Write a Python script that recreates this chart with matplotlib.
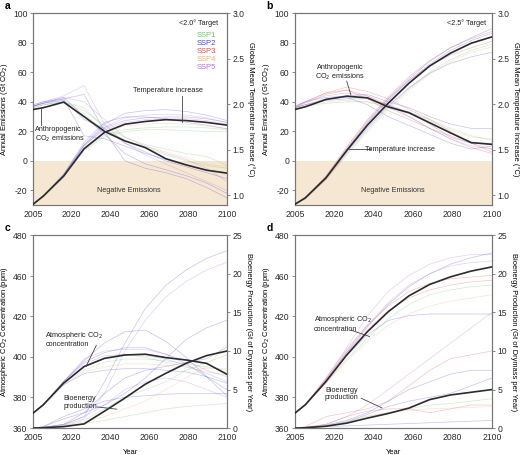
import numpy as np
import matplotlib
matplotlib.use('Agg')
from matplotlib import pyplot as plt

plt.rcParams['font.family'] = ['Liberation Sans', 'DejaVu Sans']
plt.rcParams['axes.unicode_minus'] = False

# ---- data ----
years = [2005, 2010, 2020, 2030, 2040, 2050, 2060, 2070, 2080, 2090, 2100]
year_labels = ['2005', '2020', '2040', '2060', '2080', '2100']

ssp_names = ['SSP1', 'SSP2', 'SSP3', 'SSP4', 'SSP5']
ssp_colors = {'SSP1': '#6cc46c', 'SSP2': '#4646d8', 'SSP3': '#e0504a',
              'SSP4': '#f2ad74', 'SSP5': '#b46ee0'}

# panel a: <2.0 degree target
a_em_mean = [34.8, 36, 39.8, 30, 20, 13.5, 9, 1.5, -2.7, -6.3, -8.3]
a_temp_mean = [0.90, 0.99, 1.21, 1.51, 1.69, 1.78, 1.81, 1.83, 1.82, 1.80, 1.77]
a_em_runs = [
    ('SSP2', [37, 39, 43, 30, 18, 5, -2, -6, -10, -15, -22]),
    ('SSP5', [38, 40, 44, 51, 25, 12, 4, -2, -8, -14, -20]),
    ('SSP2', [37, 39, 42, 45, 20, 0, -5, -8, -12, -18, -25]),
    ('SSP1', [36, 38, 40, 36, 22, 14, 9, 4, 0, -3, -5]),
    ('SSP4', [36, 38, 41, 32, 20, 14, 10, 6, 2, -2, -4]),
    ('SSP2', [37, 40, 42, 17, 15, 10, 5, 1, -3, -6, -8]),
    ('SSP5', [38, 40, 43, 40, 28, 16, 10, 5, 1, -5, -14]),
    ('SSP1', [36, 38, 40, 34, 24, 16, 11, 8, 5, 3, -3]),
    ('SSP2', [37, 39, 41, 28, 22, 12, 6, 0, -4, -8, -12]),
]
a_temp_runs = [
    ('SSP2', [0.90, 0.99, 1.22, 1.55, 1.78, 1.90, 1.93, 1.94, 1.92, 1.88, 1.82]),
    ('SSP5', [0.90, 0.99, 1.23, 1.56, 1.75, 1.85, 1.88, 1.89, 1.88, 1.85, 1.80]),
    ('SSP1', [0.90, 0.98, 1.20, 1.50, 1.66, 1.72, 1.74, 1.75, 1.75, 1.74, 1.72]),
    ('SSP4', [0.90, 0.98, 1.21, 1.52, 1.70, 1.76, 1.78, 1.79, 1.78, 1.76, 1.73]),
    ('SSP2', [0.90, 0.99, 1.22, 1.54, 1.74, 1.82, 1.85, 1.86, 1.86, 1.84, 1.80]),
    ('SSP2', [0.90, 0.99, 1.23, 1.58, 1.80, 1.86, 1.86, 1.84, 1.80, 1.77, 1.73]),
    ('SSP1', [0.90, 0.98, 1.20, 1.49, 1.64, 1.70, 1.72, 1.72, 1.71, 1.70, 1.70]),
    ('SSP5', [0.90, 0.99, 1.22, 1.55, 1.72, 1.80, 1.83, 1.84, 1.84, 1.82, 1.78]),
]

# panel b: <2.5 degree target
b_em_mean = [34.8, 36.6, 41.6, 43.8, 42.7, 36.6, 32.6, 25.8, 19, 12.4, 11.2]
b_temp_mean = [0.90, 0.97, 1.19, 1.49, 1.77, 2.01, 2.23, 2.42, 2.56, 2.67, 2.74]
b_em_runs = [
    ('SSP3', [36, 40, 46, 50, 47, 42, 35, 28, 20, 12, 6]),
    ('SSP3', [36, 39, 45, 48, 44, 38, 30, 22, 15, 9, 5]),
    ('SSP2', [37, 40, 43, 44, 45, 40, 36, 30, 25, 22, 22]),
    ('SSP1', [35, 37, 39, 40, 40, 36, 33, 28, 22, 17, 14]),
    ('SSP2', [36, 38, 41, 42, 42, 38, 33, 25, 16, 12, 12]),
    ('SSP5', [37, 40, 44, 46, 44, 36, 30, 22, 15, 10, 8]),
    ('SSP4', [35, 37, 40, 41, 40, 37, 33, 27, 21, 16, 15]),
    ('SSP2', [36, 38, 42, 43, 38, 30, 24, 18, 12, 8, 10]),
    ('SSP3', [36, 40, 46, 48, 42, 34, 28, 22, 17, 12, 8]),
]
b_temp_runs = [
    ('SSP3', [0.90, 0.97, 1.21, 1.53, 1.83, 2.08, 2.30, 2.48, 2.62, 2.72, 2.80]),
    ('SSP2', [0.90, 0.97, 1.20, 1.50, 1.80, 2.06, 2.28, 2.47, 2.62, 2.73, 2.83]),
    ('SSP1', [0.90, 0.96, 1.17, 1.45, 1.72, 1.96, 2.17, 2.35, 2.49, 2.59, 2.66]),
    ('SSP5', [0.90, 0.97, 1.19, 1.48, 1.77, 2.02, 2.24, 2.42, 2.57, 2.67, 2.74]),
    ('SSP2', [0.90, 0.96, 1.18, 1.47, 1.74, 1.98, 2.18, 2.34, 2.45, 2.52, 2.57]),
    ('SSP4', [0.90, 0.96, 1.17, 1.44, 1.70, 1.94, 2.15, 2.33, 2.47, 2.57, 2.63]),
    ('SSP3', [0.90, 0.97, 1.20, 1.52, 1.82, 2.06, 2.26, 2.42, 2.54, 2.62, 2.69]),
    ('SSP2', [0.90, 0.97, 1.20, 1.50, 1.79, 2.04, 2.26, 2.44, 2.59, 2.70, 2.78]),
]

# panel c: CO2 concentration and bioenergy, <2.0 degree
c_co2_mean = [369.3, 374.5, 388, 398.3, 403.4, 405.5, 406, 403.9, 402.4, 400.3, 393.5]
c_bio_mean = [0, 0.05, 0.2, 0.55, 2.2, 3.9, 5.7, 7.1, 8.4, 9.4, 10.0]
c_co2_runs = [
    ('SSP2', [369.3, 374.5, 389, 402, 413, 420, 421, 414, 404, 392, 380]),
    ('SSP5', [369.3, 374.5, 389, 403, 408, 409, 409, 406, 402, 396, 392]),
    ('SSP1', [369.3, 374.5, 388, 398, 404, 406, 404, 401, 398, 395, 393]),
    ('SSP4', [369.3, 374.5, 387, 395, 398, 400, 400, 399, 398, 397, 397]),
    ('SSP2', [369.3, 374.5, 387, 394, 396, 397, 397, 396, 395, 392, 388]),
    ('SSP2', [369.3, 374.5, 389, 401, 407, 410, 410, 406, 400, 392, 384]),
    ('SSP1', [369.3, 374.5, 388, 396, 401, 403, 403, 402, 400, 398, 396]),
    ('SSP5', [369.3, 374.5, 389, 400, 405, 406, 405, 403, 399, 394, 389]),
]
c_bio_runs = [
    ('SSP2', [0, 0.1, 0.5, 1.5, 6.0, 11.0, 15.5, 18.5, 20.5, 22.0, 23.0]),
    ('SSP5', [0, 0.1, 0.4, 1.2, 4.5, 10.0, 14.0, 17.0, 19.0, 20.5, 21.5]),
    ('SSP2', [0, 0.2, 1.2, 2.0, 3.0, 4.5, 6.5, 9.0, 11.5, 13.0, 14.0]),
    ('SSP1', [0, 0.1, 0.3, 1.0, 2.5, 4.0, 5.0, 6.0, 7.5, 8.5, 9.5]),
    ('SSP4', [0, 0.1, 0.3, 0.8, 1.5, 2.5, 3.5, 5.0, 6.5, 8.0, 11.0]),
    ('SSP2', [0, 0.1, 0.5, 2.0, 4.5, 6.5, 7.5, 8.0, 8.5, 9.0, 10.5]),
    ('SSP1', [0, 0.1, 0.2, 0.6, 1.0, 1.5, 2.0, 2.5, 2.8, 3.0, 3.2]),
    ('SSP5', [0, 0.1, 0.4, 1.5, 3.0, 5.0, 6.0, 6.5, 6.0, 5.0, 4.0]),
    ('SSP2', [0, 0.2, 1.5, 2.5, 3.5, 4.0, 4.2, 4.4, 4.5, 4.5, 4.5]),
]

# panel d: CO2 concentration and bioenergy, <2.5 degree
d_co2_mean = [369.3, 374.5, 389, 405.5, 420, 432.4, 442.3, 449.4, 454.1, 457.7, 460.3]
d_bio_mean = [0, 0.05, 0.25, 0.65, 1.3, 1.9, 2.6, 3.7, 4.3, 4.65, 5.0]
d_co2_runs = [
    ('SSP5', [369.3, 374.5, 391, 410, 430, 445, 455, 462, 466, 468, 468]),
    ('SSP2', [369.3, 374.5, 390, 407, 423, 437, 448, 456, 462, 466, 469]),
    ('SSP3', [369.3, 374.5, 391, 409, 424, 436, 445, 450, 453, 454, 455]),
    ('SSP1', [369.3, 374.5, 388, 403, 416, 428, 437, 443, 446, 448, 449]),
    ('SSP2', [369.3, 374.5, 389, 405, 418, 427, 430, 431, 431, 431, 431]),
    ('SSP3', [369.3, 374.5, 390, 407, 421, 433, 441, 446, 449, 451, 452]),
    ('SSP4', [369.3, 374.5, 388, 402, 414, 424, 431, 436, 439, 441, 443]),
    ('SSP5', [369.3, 374.5, 390, 408, 424, 438, 449, 456, 461, 463, 464]),
]
d_bio_runs = [
    ('SSP5', [0, 0.1, 0.5, 1.5, 3.0, 5.0, 7.0, 9.0, 11.0, 13.0, 15.0]),
    ('SSP3', [0, 0.2, 1.5, 2.0, 2.5, 3.5, 5.5, 7.5, 9.0, 9.5, 10.0]),
    ('SSP2', [0, 0.1, 0.4, 1.0, 2.0, 3.5, 5.0, 6.0, 7.0, 7.5, 7.5]),
    ('SSP2', [0, 0.1, 0.3, 0.8, 1.8, 2.8, 3.5, 4.0, 4.5, 5.5, 6.5]),
    ('SSP1', [0, 0.1, 0.3, 0.8, 1.5, 2.0, 2.5, 3.0, 3.2, 3.5, 3.8]),
    ('SSP3', [0, 0.1, 0.5, 1.5, 2.2, 2.5, 2.5, 2.0, 2.5, 3.0, 3.0]),
    ('SSP2', [0, 0.1, 0.2, 0.3, 0.4, 0.5, 0.6, 0.7, 0.8, 0.9, 1.0]),
    ('SSP4', [0, 0.1, 0.4, 1.0, 1.6, 2.0, 2.3, 2.5, 2.6, 2.7, 2.8]),
]

em_ticks = [-20, 0, 20, 40, 60, 80, 100]
temp_ticks = [1.0, 1.5, 2.0, 2.5, 3.0]
co2_tick_labels = ['360', '380', '400', '420', '460', '480']
co2_tick_pos = [360, 379.2, 404.5, 429.7, 454.6, 480]
bio_ticks = [0, 5, 10, 15, 20, 25]

DARK = '#2b2b2b'
SPINE = '#777777'
FS_TICK = 6.2
FS_LAB = 5.4
FS_ANN = 5.2


def setup_panel(fig, rect, letter):
    ax = fig.add_axes(rect)
    ax2 = ax.twinx()
    for a in (ax, ax2):
        for s in a.spines.values():
            s.set_color(SPINE)
            s.set_linewidth(0.8)
        a.tick_params(labelsize=FS_TICK, colors=DARK, length=2.5, width=0.6, pad=1.5)
        a.tick_params(color=SPINE)
    ax.set_xlim(2005, 2100)
    ax.set_xticks(np.linspace(2005, 2100, 6))
    ax.set_xticklabels(year_labels)
    ax.tick_params(axis='x', length=0, pad=3.5)
    fig.text(rect[0] - 0.055, rect[1] + rect[3] + 0.004, letter, fontsize=7.5,
             fontweight='bold', va='bottom', ha='left')
    return ax, ax2


def draw_runs(ax2, runs, transform):
    for ssp, vals in runs:
        ax2.plot(years, vals, color=ssp_colors[ssp], lw=0.5, alpha=0.32,
                 transform=transform, zorder=2)


def draw_mean(ax2, vals, transform):
    ax2.plot(years, vals, color=DARK, lw=1.2, transform=transform, zorder=4,
             solid_joinstyle='round')


def note(ax2, tr, x, y, s, ha='left'):
    ax2.text(x, y, s, transform=tr, fontsize=FS_ANN, ha=ha, va='center',
             color='#222222', linespacing=1.15, zorder=6)


def leader(ax2, tr, xs, ys):
    ax2.plot(xs, ys, color='#444444', lw=0.6, transform=tr, zorder=5)


fig = plt.figure(figsize=(5.2, 4.55), dpi=100)

rects = {
    'a': [0.0635, 0.549, 0.373, 0.422],
    'b': [0.567, 0.549, 0.379, 0.422],
    'c': [0.0635, 0.059, 0.373, 0.424],
    'd': [0.567, 0.059, 0.379, 0.424],
}

# ---- top panels: emissions and temperature ----
top = [('a', a_em_runs, a_em_mean, a_temp_runs, a_temp_mean),
       ('b', b_em_runs, b_em_mean, b_temp_runs, b_temp_mean)]
for letter, em_runs, em_mean, t_runs, t_mean in top:
    ax, ax2 = setup_panel(fig, rects[letter], letter)
    ax.set_ylim(-30, 100)
    ax2.set_ylim(0.89, 3.0)
    ax.set_yticks(em_ticks)
    ax2.set_yticks(temp_ticks)
    ax2.set_yticklabels(['%.1f' % t for t in temp_ticks])
    ax.axhspan(-30, 0, color='#f5e7d2', lw=0, zorder=0)
    ax.text(2052, -20, 'Negative Emissions', fontsize=FS_ANN, ha='center',
            va='center', color='#333333')
    ax.set_ylabel('Annual Emissions (Gt CO$_2$)', fontsize=FS_LAB, labelpad=2)
    ax2.set_ylabel('Global Mean Temperature Increase (°C)', fontsize=FS_LAB,
                   rotation=270, labelpad=7)
    tl = ax.transData
    tr = ax2.transData
    draw_runs(ax2, em_runs, tl)
    draw_runs(ax2, t_runs, tr)
    draw_mean(ax2, em_mean, tl)
    draw_mean(ax2, t_mean, tr)
    if letter == 'a':
        note(ax2, tl, 2005.8, 17.5, 'Anthropogenic\nCO$_2$ emissions')
        leader(ax2, tl, [2009, 2009], [35.5, 24])
        note(ax2, tl, 2071, 47.5, 'Temperature increase', ha='center')
        leader(ax2, tl, [2078, 2078], [44, 26.5])
        ax2.text(0.955, 0.948, '<2.0° Target', transform=ax.transAxes,
                 fontsize=FS_ANN, ha='right', va='center', color='#222222')
        for i, name in enumerate(ssp_names):
            ax2.text(0.945, 0.885 - i * 0.0425, name, transform=ax.transAxes,
                     fontsize=FS_ANN + 0.3, ha='right', va='center',
                     color=ssp_colors[name])
    else:
        note(ax2, tl, 2027, 59.5, 'Anthropogenic\nCO$_2$ emissions', ha='center')
        leader(ax2, tl, [2030, 2032], [54, 44.8])
        note(ax2, tl, 2055.5, 8, 'Temperature increase', ha='center')
        leader(ax2, tl, [2031, 2041.5], [8, 8])
        ax2.text(0.97, 0.948, '<2.5° Target', transform=ax.transAxes,
                 fontsize=FS_ANN, ha='right', va='center', color='#222222')

# ---- bottom panels: CO2 concentration and bioenergy ----
bottom = [('c', c_co2_runs, c_co2_mean, c_bio_runs, c_bio_mean),
          ('d', d_co2_runs, d_co2_mean, d_bio_runs, d_bio_mean)]
for letter, co2_runs, co2_mean, bio_runs, bio_mean in bottom:
    ax, ax2 = setup_panel(fig, rects[letter], letter)
    ax.set_ylim(360, 480)
    ax2.set_ylim(0, 25)
    ax.set_yticks(co2_tick_pos)
    ax.set_yticklabels(co2_tick_labels)
    ax2.set_yticks(bio_ticks)
    ax.set_ylabel('Atmospheric CO$_2$ Concentration (ppm)', fontsize=FS_LAB, labelpad=2)
    ax2.set_ylabel('Bioenergy Production (Gt of Drymass per Year)', fontsize=FS_LAB,
                   rotation=270, labelpad=7)
    ax.set_xlabel('Year', fontsize=FS_LAB, labelpad=5)
    tl = ax.transData
    tr = ax2.transData
    draw_runs(ax2, co2_runs, tl)
    draw_runs(ax2, bio_runs, tr)
    draw_mean(ax2, co2_mean, tl)
    draw_mean(ax2, bio_mean, tr)
    if letter == 'c':
        note(ax2, tl, 2011, 415.5, 'Atmospheric CO$_2$\nconcentration')
        leader(ax2, tl, [2036, 2031], [411.5, 398.5])
        note(ax2, tl, 2020, 376, 'Bioenergy\nproduction')
        leader(ax2, tl, [2036.5, 2046], [373.2, 371.8])
    else:
        note(ax2, tl, 2014, 425, 'Atmospheric CO$_2$\nconcentration')
        leader(ax2, tl, [2032, 2041], [421, 417])
        note(ax2, tl, 2019.5, 381.3, 'Bioenergy\nproduction')
        leader(ax2, tl, [2037, 2047], [378.6, 372.6])

fig.savefig('out.png', dpi=100)
